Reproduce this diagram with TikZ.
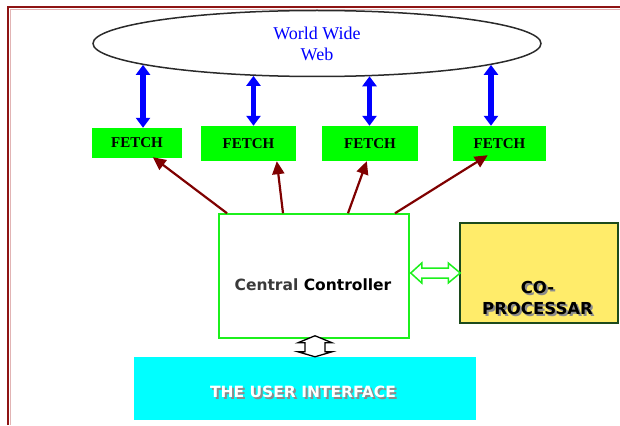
\documentclass[tikz,border=0pt]{standalone}
\usepackage{fontspec}
\setmainfont{Liberation Serif}
\newfontfamily\comicfont{DejaVu Sans}
\usetikzlibrary{shapes.geometric,arrows.meta,calc}

\definecolor{framered}{HTML}{8E1414}
\definecolor{framepink}{HTML}{E2B4B4}
\definecolor{webline}{HTML}{2A2A2A}
\definecolor{webblue}{HTML}{0000FF}
\definecolor{fetchgreen}{HTML}{00FF00}
\definecolor{linkred}{HTML}{7F0000}
\definecolor{ctrlgreen}{HTML}{1CF01C}
\definecolor{textgray}{HTML}{3A3A3A}
\definecolor{copyellow}{HTML}{FFEC6A}
\definecolor{copborder}{HTML}{1C4A1C}
\definecolor{uicyan}{HTML}{00FFFF}
\definecolor{shadowgray}{HTML}{8C8C8C}

\begin{document}
\begin{tikzpicture}[x=1pt,y=-1pt,
  fetchbox/.style={fill=fetchgreen, inner sep=0pt,
    font=\fontsize{15}{18}\selectfont\bfseries},
  webarrow/.style={draw=webblue, line width=5.5pt,
    {Triangle[width=14pt,length=10pt]}-{Triangle[width=14pt,length=10pt]}},
  fetchlink/.style={draw=linkred, line width=2.2pt,
    -{Triangle[width=12pt,length=13pt]}},
  coptext/.style={font=\comicfont\bfseries\fontsize{16.5}{21}\selectfont, align=center, inner sep=0pt},
  uitext/.style={font=\comicfont\bfseries\fontsize{15.5}{18}\selectfont, inner sep=0pt},
]
\useasboundingbox (0,0) rectangle (620,425);

% page frame
\draw[framered, line width=2pt] (7.5,425) -- (7.5,7.5) -- (620,7.5);
\draw[framepink, line width=0.8pt] (9.9,425) -- (9.9,9.9) -- (620,9.9);

% the web
\node[draw=webline, line width=1.5pt, ellipse, inner sep=0pt,
      minimum width=448pt, minimum height=66pt] (www) at (317,43.5) {};
\node[text=webblue, font=\fontsize{18}{21.5}\selectfont, align=center] (wwwlabel) at (317,44) {World Wide\\Web};

% fetchers
\node[fetchbox, minimum width=90pt, minimum height=30pt] (f1) at (137,143) {FETCH};
\node[fetchbox, minimum width=95pt, minimum height=35pt] (f2) at (248.5,143.5) {FETCH};
\node[fetchbox, minimum width=96pt, minimum height=35pt] (f3) at (370,143.5) {FETCH};
\node[fetchbox, minimum width=93pt, minimum height=35pt] (f4) at (499.5,143.5) {FETCH};

% links between the web and the fetchers
\draw[webarrow] (www.187.1) -- (www.187.1 |- f1.north);
\draw[webarrow] (www.207.9) -- (www.207.9 |- f2.north);
\draw[webarrow] (www.328.8) -- (www.328.8 |- f3.north);
\draw[webarrow] (www.353.3) -- (www.353.3 |- f4.north);

% central controller
\node[draw=ctrlgreen, fill=white, line width=1.5pt,
      minimum width=190pt, minimum height=124pt] (ctrl) at (314,276) {};
\node[font=\comicfont\bfseries\fontsize{15.5}{18}\selectfont] (ctrllabel) at (313,285)
  {\textcolor{textgray}{Central} Controller};

% controller drives the fetchers
\draw[fetchlink] ($(ctrl.north)+(-87,0)$) -- ($(f1.south west)+(61,-1)$);
\draw[fetchlink] ($(ctrl.north)+(-31,0)$) -- ($(f2.south west)+(76,0)$);
\draw[fetchlink] ($(ctrl.north)+(34,0)$) -- ($(f3.south west)+(45,0)$);
\draw[fetchlink] ($(ctrl.north)+(81,0)$) -- ($(f4.south west)+(35,-6)$);

% co-processor
\node[draw=copborder, fill=copyellow, line width=1.5pt,
      minimum width=158pt, minimum height=100pt] (cop) at (539,273) {};
\node[coptext, text=shadowgray] (copshadow) at (539.5,299.5) {CO-\\PROCESSAR};
\node[coptext, text=black] (coplabel) at (537.5,297.5) {CO-\\PROCESSAR};

% hollow two-way link controller <-> co-processor
\draw[ctrlgreen, line width=1.5pt, fill=white, line join=miter]
  ($(ctrl.east)+(1,-3)$) coordinate (gl) -- ++(11,-10) -- ++(0,5)
  -- ($(cop.west)+(-11,-5)$) -- ++(0,-5) -- ($(cop.west)+(1,0)$)
  -- ++(-12,10) -- ++(0,-5) -- ($(gl)+(11,5)$) -- ++(0,5) -- cycle;

% user interface
\node[fill=uicyan, inner sep=0pt, minimum width=342pt, minimum height=63pt] (ui) at (305,388.5) {};
\node[uitext, text=shadowgray] (uishadow) at (305,394) {THE USER INTERFACE};
\node[uitext, text=white] (uilabel) at (303,392) {THE USER INTERFACE};

% hollow two-way link controller <-> user interface
\draw[black, line width=1.3pt, fill=white, line join=miter]
  ($(ctrl.south)+(1,-3)$) coordinate (it) -- ++(17,7) -- ++(-7,0)
  -- ($(it |- ui.north)+(10,-5)$) -- ++(7,0) -- (it |- ui.north)
  -- ++(-17,-5) -- ++(7,0) -- ($(it)+(-10,7)$) -- ++(-7,0) -- cycle;
\end{tikzpicture}
\end{document}
